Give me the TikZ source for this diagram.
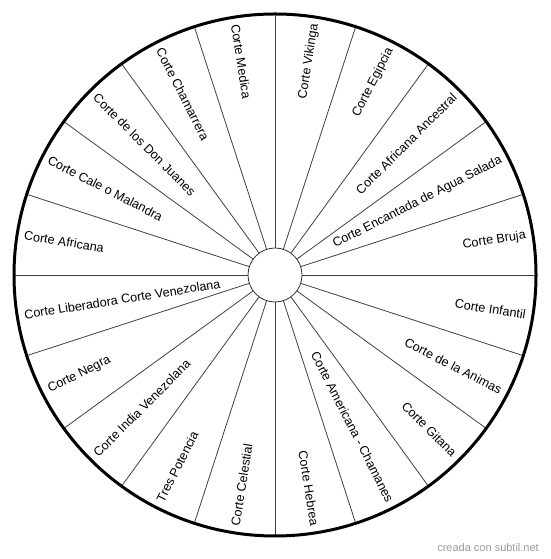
\documentclass[tikz,border=0pt]{standalone}
\usepackage{fontspec}
\setmainfont{Liberation Sans}
\usepackage{tikz}

\begin{document}
\begin{tikzpicture}[x=1pt, y=1pt,
  hub/.style={circle, draw=black!80, line width=0.8pt, fill=white,
    minimum size=54pt, inner sep=0pt},
  spoke/.style={draw=black!75, line width=0.8pt},
  wheel/.style={draw=black, line width=3pt},
  sector/.style={inner sep=0pt, font=\fontsize{12.6}{15}\selectfont},
  credit/.style={inner sep=0pt, text=black!40, font=\fontsize{11}{13}\selectfont}
]
  \useasboundingbox (0,0) rectangle (550,559);
  \node[hub] (hub) at (275,284) {};
  % spokes
  \foreach \i in {0,...,19} {
    \coordinate (rim\i) at ([shift={(18*\i:261)}]hub.center);
    \draw[spoke] (hub.{18*\i}) -- (rim\i);
  }
  \draw[wheel] (hub.center) circle (261);
  % right half, read outwards
  \foreach \txt [count=\i from 0, evaluate=\i as \a using 81-18*\i] in
    {Corte Vikinga, Corte Egipcia, Corte Africana Ancestral,
     Corte Encantada de Agua Salada, Corte Bruja, Corte Infantil,
     Corte de la Animas, Corte Gitana, Corte Americana - Chamanes, Corte Hebrea}
    \node[sector, anchor=east, rotate=\a] (r\i) at ([shift={(\a:254)}]hub.center) {\txt};
  % left half, read inwards
  \foreach \txt [count=\i from 0, evaluate=\i as \a using 99+18*\i] in
    {Corte Medica, Corte Chamarrera, Corte de los Don Juanes,
     Corte Cale o Malandra, Corte Africana, Corte Liberadora Corte Venezolana,
     Corte Negra, Corte India Venezolana, Tres Potencia, Corte Celestial}
    \node[sector, anchor=west, rotate=\a-180] (l\i) at ([shift={(\a:254)}]hub.center) {\txt};
  \node[credit, anchor=base east] (mark) at (539,8) {creada con subtil.net};
\end{tikzpicture}
\end{document}
